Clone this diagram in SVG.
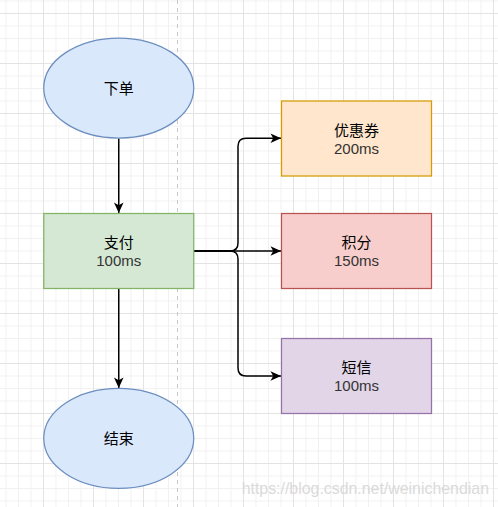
<svg xmlns="http://www.w3.org/2000/svg" width="498" height="507" viewBox="0 0 498 507">
  <defs>
    <pattern id="minor" x="43" y="13" width="12.5" height="12.5" patternUnits="userSpaceOnUse">
      <path d="M0.5 0 V12.5 M0 0.5 H12.5" stroke="#f1f1f1" stroke-width="1" fill="none"/>
    </pattern>
    <pattern id="major" x="43" y="13" width="50" height="50" patternUnits="userSpaceOnUse">
      <path d="M0.5 0 V50 M0 0.5 H50" stroke="#e3e3e3" stroke-width="1" fill="none"/>
    </pattern>
    <marker id="arrow" markerUnits="userSpaceOnUse" markerWidth="12" markerHeight="12" viewBox="-11 -6 12 12" refX="0" refY="0" orient="auto">
      <path d="M0 0 L-10.5 -4.8 L-7.8 0 L-10.5 4.8 Z" fill="#000"/>
    </marker>
    <style>
      .t { font-family: "Liberation Sans", "Noto Sans CJK SC", sans-serif; font-size: 15px; text-anchor: middle; fill: #000; }
      .s { fill: #333; }
      .e { stroke: #000; stroke-width: 1.5; fill: none; marker-end: url(#arrow); }
    </style>
  </defs>
  <rect width="498" height="507" fill="#fff"/>
  <rect width="498" height="507" fill="url(#minor)"/>
  <rect width="498" height="507" fill="url(#major)"/>
  <line x1="177.5" y1="0" x2="177.5" y2="507" stroke="#c8c8c8" stroke-width="1" stroke-dasharray="4 4"/>

  <g id="connectors">
    <path class="e" d="M118.75 138.5 L118.75 213"/>
    <path class="e" d="M118.75 288.5 L118.75 388"/>
    <path class="e" d="M194 251 L230 251 Q238 251 238 243 L238 146.3 Q238 138.3 246 138.3 L281 138.3"/>
    <path class="e" d="M194 251 L281 251"/>
    <path class="e" d="M194 251 L230 251 Q238 251 238 259 L238 368 Q238 376 246 376 L281 376"/>
  </g>

  <g id="order">
    <ellipse cx="118.75" cy="88" rx="75" ry="50" fill="#dae8fc" stroke="#6c8ebf" stroke-width="1.25"/>
    <text class="t" x="118.75" y="93.5">下单</text>
  </g>
  <g id="pay">
    <rect x="43.75" y="213.5" width="150" height="75" fill="#d5e8d4" stroke="#82b366" stroke-width="1.25"/>
    <text class="t" x="118.75" y="248">支付</text>
    <text class="t s" x="118.75" y="265.5">100ms</text>
  </g>
  <g id="end">
    <ellipse cx="118.75" cy="438.3" rx="75" ry="50" fill="#dae8fc" stroke="#6c8ebf" stroke-width="1.25"/>
    <text class="t" x="118.75" y="443.8">结束</text>
  </g>
  <g id="coupon">
    <rect x="281.5" y="101" width="150" height="75" fill="#ffe6cc" stroke="#d79b00" stroke-width="1.25"/>
    <text class="t" x="356.5" y="135.5">优惠券</text>
    <text class="t s" x="356.5" y="153.5">200ms</text>
  </g>
  <g id="points">
    <rect x="281.5" y="213.5" width="150" height="75" fill="#f8cecc" stroke="#b85450" stroke-width="1.25"/>
    <text class="t" x="356.5" y="248">积分</text>
    <text class="t s" x="356.5" y="265.5">150ms</text>
  </g>
  <g id="sms">
    <rect x="281.5" y="338.5" width="150" height="75" fill="#e1d5e7" stroke="#9673a6" stroke-width="1.25"/>
    <text class="t" x="356.5" y="372.5">短信</text>
    <text class="t s" x="356.5" y="390.5">100ms</text>
  </g>

  <text x="489" y="494" font-family="Liberation Sans, Arial, sans-serif" font-size="15.9" text-anchor="end" fill="#dadada">https://blog.csdn.net/weinichendian</text>
</svg>
